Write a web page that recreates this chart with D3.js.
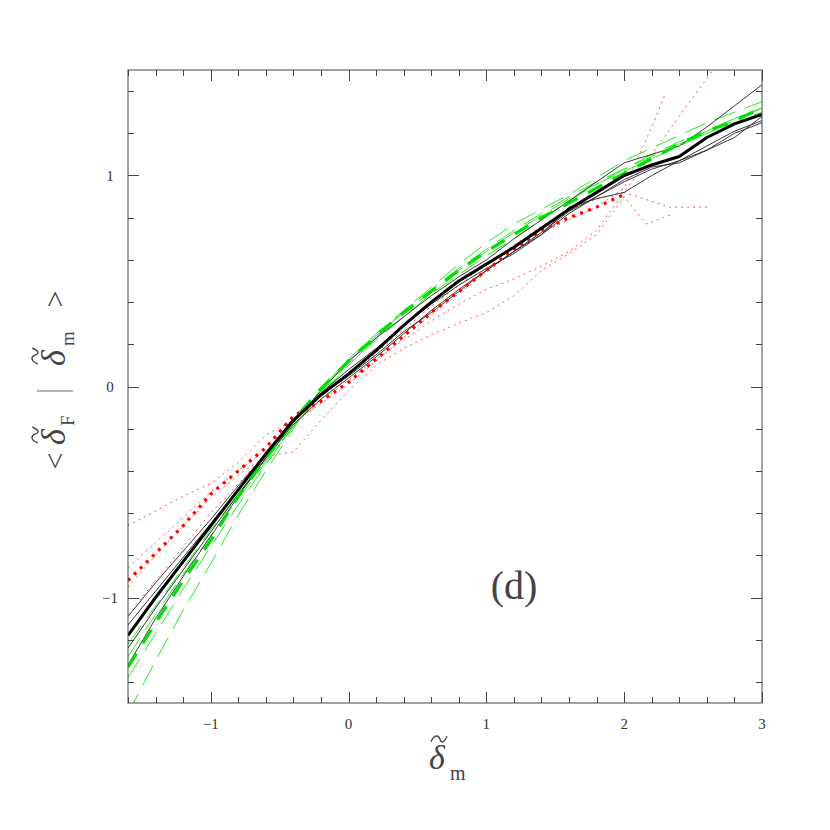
<!DOCTYPE html>
<html><head><meta charset="utf-8">
<script src="https://cdn.jsdelivr.net/npm/d3@7"></script>
<style>body{margin:0;background:#fff}svg{display:block}</style>
</head><body>
<svg id="c" width="830" height="830"></svg>
<script>
// ---- data ----
const xs = [-1.6,-1.4,-1.2,-1.0,-0.8,-0.6,-0.4,-0.2,0,0.2,0.4,0.6,0.8,1.0,1.2,1.4,1.6,1.8,2.0,2.2,2.4,2.6,2.8,3.0];
const blackMean = [-1.18,-1.00,-0.83,-0.66,-0.49,-0.32,-0.16,-0.04,0.06,0.17,0.29,0.40,0.50,0.58,0.66,0.75,0.84,0.92,1.00,1.05,1.09,1.18,1.245,1.29];
const blackThin1 = [-1.09,-0.93,-0.78,-0.63,-0.47,-0.32,-0.17,-0.02,0.12,0.23,0.33,0.43,0.52,0.60,0.70,0.79,0.88,0.97,1.06,1.10,1.14,1.23,1.33,1.43];
const blackThin2 = [-1.13,-0.97,-0.81,-0.65,-0.49,-0.33,-0.16,-0.03,0.08,0.18,0.29,0.39,0.48,0.56,0.63,0.72,0.85,0.89,0.92,1.00,1.07,1.12,1.18,1.28];
const blackThin3 = [-1.24,-1.05,-0.87,-0.69,-0.51,-0.34,-0.17,-0.04,0.05,0.15,0.26,0.35,0.45,0.55,0.64,0.73,0.83,0.90,0.97,1.03,1.07,1.14,1.21,1.26];
const blackThin4 = [-1.32,-1.10,-0.90,-0.71,-0.52,-0.34,-0.18,-0.06,0.04,0.14,0.25,0.36,0.46,0.55,0.64,0.72,0.82,0.90,0.98,1.04,1.06,1.12,1.20,1.25];
const greenMean = [-1.33,-1.12,-0.92,-0.73,-0.52,-0.34,-0.16,-0.01,0.12,0.24,0.35,0.45,0.55,0.64,0.72,0.80,0.87,0.94,1.01,1.08,1.15,1.21,1.26,1.32];
const greenThin1 = [-1.22,-1.04,-0.86,-0.68,-0.51,-0.35,-0.19,-0.04,0.10,0.23,0.36,0.47,0.58,0.68,0.77,0.84,0.91,0.99,1.07,1.13,1.19,1.25,1.30,1.35];
const greenThin2 = [-1.28,-1.08,-0.89,-0.71,-0.53,-0.36,-0.19,-0.03,0.11,0.22,0.33,0.44,0.53,0.62,0.70,0.79,0.88,0.96,1.02,1.08,1.14,1.20,1.26,1.32];
const greenThin3 = [-1.38,-1.17,-0.96,-0.76,-0.56,-0.37,-0.19,-0.02,0.12,0.24,0.35,0.45,0.55,0.64,0.73,0.81,0.89,0.96,1.03,1.09,1.15,1.20,1.25,1.30];
const greenThin4 = [-1.55,-1.30,-1.06,-0.84,-0.61,-0.40,-0.20,-0.01,0.13,0.25,0.36,0.46,0.56,0.65,0.74,0.82,0.90,0.97,1.03,1.10,1.16,1.21,1.27,1.32];
const redXs = [-1.6,-1.4,-1.2,-1.0,-0.8,-0.6,-0.4,-0.2,0,0.2,0.4,0.6,0.8,1.0,1.2,1.4,1.6,1.8,2.0];
const redMean = [-0.92,-0.79,-0.66,-0.51,-0.40,-0.29,-0.14,-0.07,0.02,0.13,0.24,0.35,0.45,0.55,0.65,0.74,0.80,0.85,0.91];
const redThin1X = [-1.6,-1.4,-1.2,-1.0,-0.8,-0.6,-0.4,-0.2,0,0.2,0.4,0.6,0.8,1.0,1.2,1.4,1.6,1.8,2.0,2.2,2.4,2.6,2.8];
const redThin1 = [-0.66,-0.59,-0.52,-0.46,-0.36,-0.23,-0.16,-0.06,0.05,0.16,0.27,0.38,0.48,0.58,0.67,0.76,0.84,0.89,0.92,1.10,1.28,1.46,1.64];
const redThin2X = [-1.6,-1.4,-1.2,-1.0,-0.8,-0.6,-0.4,-0.2,0,0.2,0.4,0.6,0.8,1.0,1.2,1.4,1.6,1.8,2.0,2.2,2.3];
const redThin2 = [-0.86,-0.74,-0.62,-0.50,-0.40,-0.30,-0.17,-0.08,0.01,0.12,0.23,0.34,0.44,0.54,0.64,0.73,0.79,0.85,0.94,1.23,1.39];
const redThin3X = [-1.6,-1.4,-1.2,-1.0,-0.8,-0.6,-0.4,-0.2,0,0.2,0.4,0.6,0.8,1.0,1.2,1.4,1.6,1.8,2.0,2.33,2.61];
const redThin3 = [-1.08,-0.92,-0.76,-0.60,-0.46,-0.32,-0.18,-0.07,0.03,0.13,0.22,0.31,0.39,0.46,0.51,0.57,0.64,0.74,0.92,0.85,0.85];
const redThin4X = [-1.6,-1.4,-1.2,-1.0,-0.8,-0.6,-0.4,-0.2,0,0.2,0.4,0.6,0.8,1.0,1.2,1.4,1.6,1.8,2.0,2.16,2.36];
const redThin4 = [-0.95,-0.80,-0.66,-0.53,-0.42,-0.33,-0.31,-0.16,-0.02,0.10,0.18,0.245,0.30,0.35,0.43,0.55,0.63,0.72,0.90,0.77,0.82];
const xTickLabels = ["\u22121","0","1","2","3"];
const xTickValues = [-1,0,1,2,3];
const yTickLabels = ["\u22121","0","1"];
const yTickValues = [-1,0,1];

// ---- layout ----
const L=128,R=762,T=70,B=703;
const svg=d3.select("#c");
const x=d3.scaleLinear().domain([-1.6,3]).range([L,R]);
const y=d3.scaleLinear().domain([-1.5,1.5]).range([B,T]);
svg.append("defs").append("clipPath").attr("id","clip").append("rect")
  .attr("x",L).attr("y",T).attr("width",R-L).attr("height",B-T);
const plot=svg.append("g").attr("clip-path","url(#clip)");
const line=d3.line().x(d=>x(d[0])).y(d=>y(d[1]));
function draw(xv,yv,color,w,dash,op){
  plot.append("path").datum(xv.map((v,i)=>[v,yv[i]]))
   .attr("d",line).attr("fill","none").attr("stroke",color)
   .attr("stroke-width",w).attr("stroke-dasharray",dash||null)
   .attr("stroke-opacity",op||1).attr("stroke-linejoin","round");
}
// thin red dotted
[[redThin1X,redThin1],[redThin2X,redThin2],[redThin3X,redThin3],[redThin4X,redThin4]]
  .forEach(s=>draw(s[0],s[1],"#ff3030",1,"2,4",0.8));
// thin green dashed
[greenThin1,greenThin2,greenThin3,greenThin4].forEach(s=>draw(xs,s,"#22ee22",1,"22,10"));
// thin black
[blackThin1,blackThin2,blackThin3,blackThin4].forEach(s=>draw(xs,s,"#222",0.9));
// thick
draw(redXs,redMean,"#ff0000",3.2,"3,5.5");
draw(xs,greenMean,"#00e000",3.2,"16,12");
draw(xs,blackMean,"#000",3);

// ---- frame & ticks ----
const fc="#444";
svg.append("rect").attr("x",L).attr("y",T).attr("width",R-L).attr("height",B-T)
  .attr("fill","none").attr("stroke",fc).attr("stroke-width",1);
const xMinor=d3.range(-16,31,2).map(v=>v/10);
function isInt(v){return Math.abs(v-Math.round(v))<1e-6;}
const tg=svg.append("g").attr("stroke",fc).attr("stroke-width",1);
xMinor.forEach(v=>{
  const len=isInt(v)?11:6, px=Math.round(x(v))+0.5;
  tg.append("line").attr("x1",px).attr("x2",px).attr("y1",B).attr("y2",B-len);
  tg.append("line").attr("x1",px).attr("x2",px).attr("y1",T).attr("y2",T+len);
});
d3.range(-14,15,2).map(v=>v/10).forEach(v=>{
  const len=isInt(v)?11:6, py=Math.round(y(v))+0.5;
  tg.append("line").attr("y1",py).attr("y2",py).attr("x1",L).attr("x2",L+len);
  tg.append("line").attr("y1",py).attr("y2",py).attr("x1",R).attr("x2",R-len);
});
const font="'Liberation Serif','DejaVu Serif',serif";
svg.append("g").selectAll("text").data(xTickValues).join("text")
  .attr("x",d=>x(d)).attr("y",729).attr("text-anchor","middle")
  .attr("font-family",font).attr("font-size",15).attr("fill","#333")
  .text((d,i)=>xTickLabels[i]);
svg.append("g").selectAll("text").data(yTickValues).join("text")
  .attr("x",110).attr("y",d=>y(d)+5).attr("text-anchor","middle")
  .attr("font-family",font).attr("font-size",15).attr("fill","#333")
  .text((d,i)=>yTickLabels[i]);

// ---- panel label ----
svg.append("text").attr("x",514).attr("y",599).attr("text-anchor","middle")
  .attr("font-family",font).attr("font-size",40).attr("fill","#444").text("(d)");

// tilde accent drawn as a small wave
function tilde(g,cx,cy,w){
  const h=w*0.28;
  g.append("path")
   .attr("d",`M${cx-w/2},${cy+h*0.6} C${cx-w/4},${cy-h*1.4} ${cx},${cy-h*0.6} ${cx+w*0.05},${cy} S${cx+w/4},${cy+h*1.4} ${cx+w/2},${cy-h*0.6}`)
   .attr("fill","none").attr("stroke","#444").attr("stroke-width",1.4);
}

// ---- x axis label ----
const xl=svg.append("g").attr("font-family",font).attr("fill","#444");
xl.append("text").attr("x",437).attr("y",769).attr("text-anchor","middle")
  .attr("font-size",34).attr("font-style","italic").text("δ");
tilde(xl,439,739,16);
xl.append("text").attr("x",450).attr("y",780).attr("font-size",20).text("m");

// ---- y axis label ----
const yl=svg.append("g").attr("transform","translate(65,380) rotate(-90)")
  .attr("font-family",font).attr("fill","#444");
yl.append("text").attr("x",-81).attr("y",0).attr("text-anchor","middle").attr("font-size",30).text("<");
yl.append("text").attr("x",-57).attr("y",0).attr("text-anchor","middle").attr("font-size",34).attr("font-style","italic").text("δ");
tilde(yl,-55,-30,16);
yl.append("text").attr("x",-46).attr("y",9).attr("font-size",19).text("F");
yl.append("line").attr("x1",-11).attr("x2",-11).attr("y1",-28).attr("y2",8).attr("stroke","#666").attr("stroke-width",1);
yl.append("text").attr("x",22).attr("y",0).attr("text-anchor","middle").attr("font-size",34).attr("font-style","italic").text("δ");
tilde(yl,24,-30,16);
yl.append("text").attr("x",34).attr("y",9).attr("font-size",19).text("m");
yl.append("text").attr("x",81).attr("y",0).attr("text-anchor","middle").attr("font-size",30).text(">");
</script>
</body></html>
